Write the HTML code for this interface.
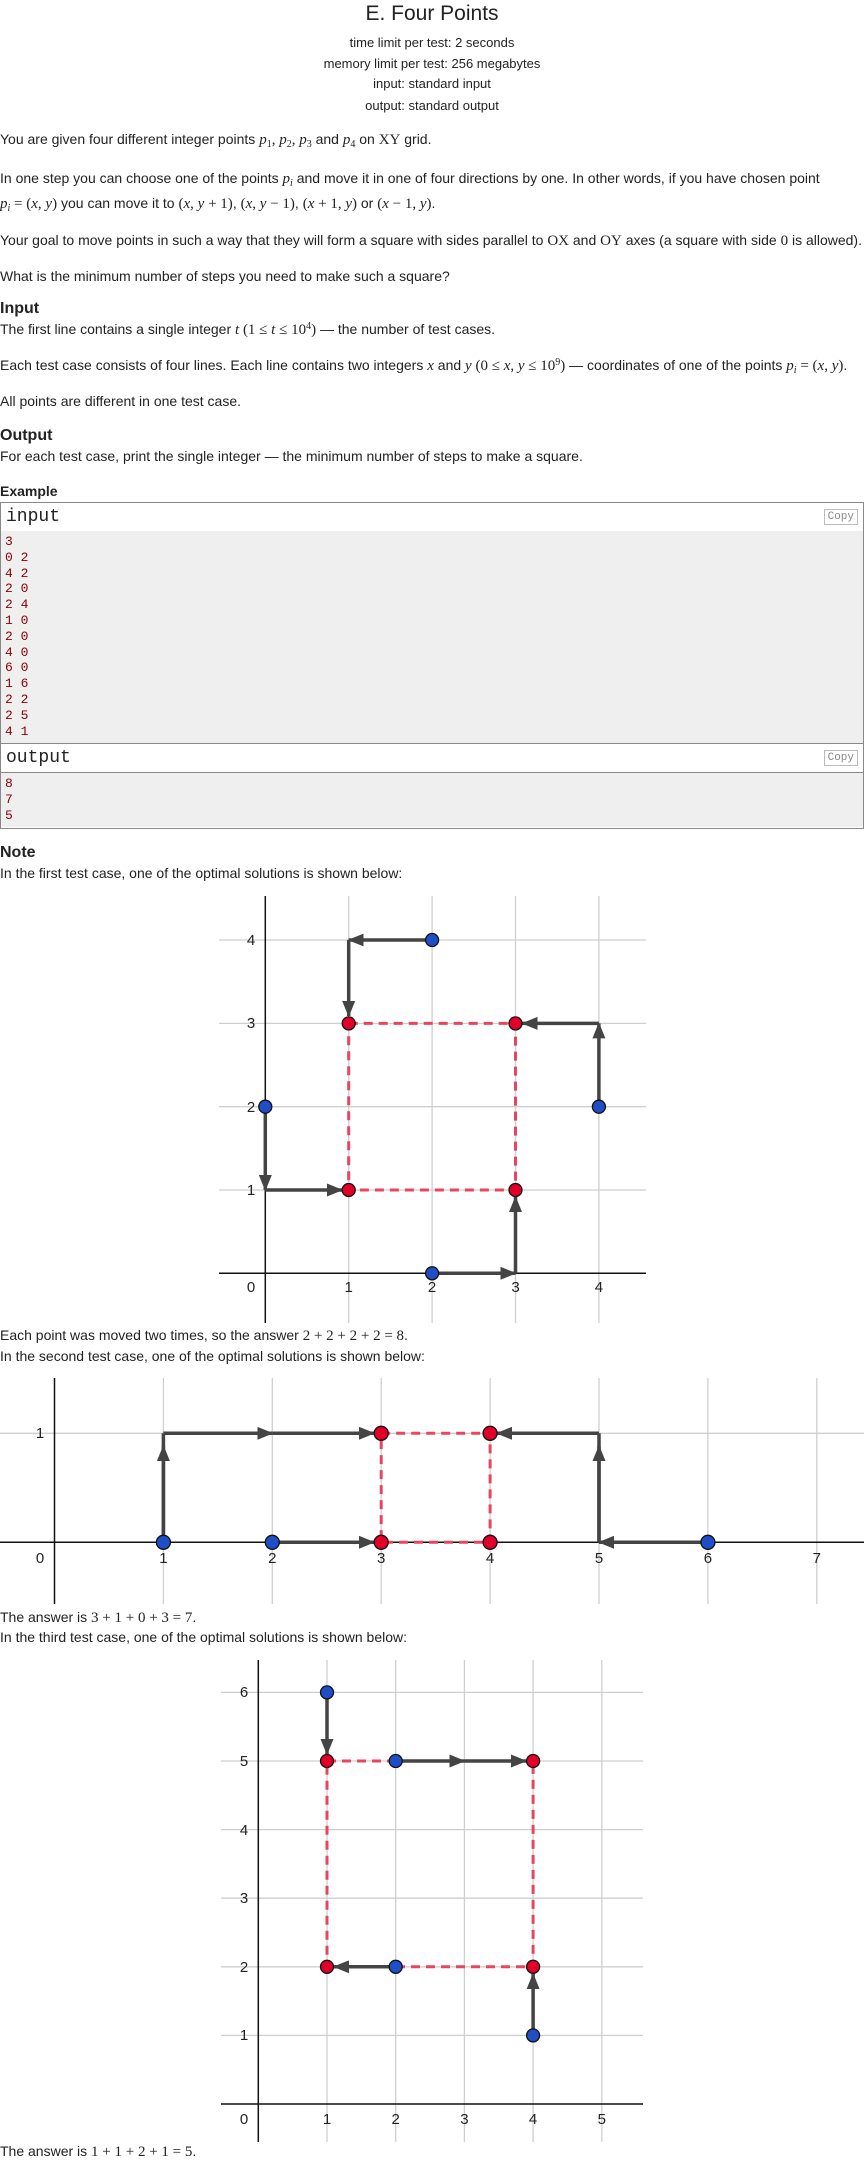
<!DOCTYPE html>
<html><head><meta charset="utf-8">
<style>
html,body{margin:0;padding:0;background:#fff;}
body{width:864px;height:2162px;position:relative;overflow:hidden;font-family:"Liberation Sans",sans-serif;color:#222;font-size:14px;}
.t{position:absolute;left:0;white-space:nowrap;line-height:18px;height:18px;}
.c{left:0;width:864px;text-align:center;}
.m{font-family:"Liberation Serif",serif;font-size:15px;}
sub{font-size:10px;vertical-align:-3px;line-height:0;}
sup{font-size:10px;vertical-align:5px;line-height:0;}
.h{font-weight:bold;font-size:16px;}
.box{position:absolute;left:0;width:862px;border:1px solid #888;}
.hdr{position:absolute;left:0;width:862px;background:#fff;font-family:"Liberation Mono",monospace;font-size:18px;}
.hdr span{position:absolute;left:5px;top:4px;}
.copy{position:absolute;right:5px;top:6px;border:1px solid #bbb;font-size:11px;color:#888;padding:1px 3px;font-family:"Liberation Mono",monospace;}
.pre{position:absolute;left:0;width:862px;background:#efefef;font-family:"Liberation Mono",monospace;font-size:13px;color:#8b0000;line-height:15.8px;}
.pre div{padding-left:4px;}
</style></head><body>
<div class="t c" style="top:3px;font-size:21px;line-height:22px;height:22px;">E. Four Points</div>
<div class="t c" style="top:34px;font-size:13px;">time limit per test: 2 seconds</div>
<div class="t c" style="top:55px;font-size:13px;">memory limit per test: 256 megabytes</div>
<div class="t c" style="top:75px;font-size:13px;">input: standard input</div>
<div class="t c" style="top:97px;font-size:13px;">output: standard output</div>

<div class="t" style="top:130px;">You are given four different integer points <span class="m"><i>p</i><sub>1</sub>, <i>p</i><sub>2</sub>, <i>p</i><sub>3</sub></span> and <span class="m"><i>p</i><sub>4</sub></span> on <span class="m">XY</span> grid.</div>
<div class="t" style="top:169px;">In one step you can choose one of the points <span class="m"><i>p<sub>i</sub></i></span> and move it in one of four directions by one. In other words, if you have chosen point</div>
<div class="t" style="top:194px;"><span class="m"><i>p<sub>i</sub></i> = (<i>x</i>, <i>y</i>)</span> you can move it to <span class="m">(<i>x</i>, <i>y</i> + 1)</span>, <span class="m">(<i>x</i>, <i>y</i> − 1)</span>, <span class="m">(<i>x</i> + 1, <i>y</i>)</span> or <span class="m">(<i>x</i> − 1, <i>y</i>)</span>.</div>
<div class="t" style="top:231px;">Your goal to move points in such a way that they will form a square with sides parallel to <span class="m">OX</span> and <span class="m">OY</span> axes (a square with side <span class="m">0</span> is allowed).</div>
<div class="t" style="top:267px;">What is the minimum number of steps you need to make such a square?</div>
<div class="t h" style="top:300px;">Input</div>
<div class="t" style="top:320px;">The first line contains a single integer <span class="m"><i>t</i> (1 ≤ <i>t</i> ≤ 10<sup>4</sup>)</span> — the number of test cases.</div>
<div class="t" style="top:356px;">Each test case consists of four lines. Each line contains two integers <span class="m"><i>x</i></span> and <span class="m"><i>y</i> (0 ≤ <i>x</i>, <i>y</i> ≤ 10<sup>9</sup>)</span> — coordinates of one of the points <span class="m"><i>p<sub>i</sub></i> = (<i>x</i>, <i>y</i>)</span>.</div>
<div class="t" style="top:392px;">All points are different in one test case.</div>
<div class="t h" style="top:427px;">Output</div>
<div class="t" style="top:447px;">For each test case, print the single integer — the minimum number of steps to make a square.</div>
<div class="t" style="top:482px;font-weight:bold;">Example</div>

<div class="box" style="top:502px;height:325px;"></div>
<div class="hdr" style="top:503px;left:1px;height:28px;"><span>input</span><div class="copy">Copy</div></div>
<div class="pre" style="top:531px;left:1px;height:212px;border-top:0;"><div style="padding-top:3px;">3</div><div>0 2</div><div>4 2</div><div>2 0</div><div>2 4</div><div>1 0</div><div>2 0</div><div>4 0</div><div>6 0</div><div>1 6</div><div>2 2</div><div>2 5</div><div>4 1</div></div>
<div style="position:absolute;left:0;top:743px;width:864px;height:1px;background:#888;"></div>
<div class="hdr" style="top:744px;left:1px;height:28px;"><span>output</span><div class="copy">Copy</div></div>
<div style="position:absolute;left:0;top:772px;width:864px;height:1px;background:#888;"></div>
<div class="pre" style="top:773px;left:1px;height:54px;"><div style="padding-top:3px;">8</div><div>7</div><div>5</div></div>

<div class="t h" style="top:844px;">Note</div>
<div class="t" style="top:864px;">In the first test case, one of the optimal solutions is shown below:</div>
<div class="t" style="top:1326px;">Each point was moved two times, so the answer <span class="m">2 + 2 + 2 + 2 = 8</span>.</div>
<div class="t" style="top:1347px;">In the second test case, one of the optimal solutions is shown below:</div>
<div class="t" style="top:1608px;">The answer is <span class="m">3 + 1 + 0 + 3 = 7</span>.</div>
<div class="t" style="top:1628px;">In the third test case, one of the optimal solutions is shown below:</div>
<div class="t" style="top:2142px;">The answer is <span class="m">1 + 1 + 2 + 1 = 5</span>.</div>

<svg width="864" height="2162" style="position:absolute;left:0;top:0;" xmlns="http://www.w3.org/2000/svg">
<defs>
<marker id="ah" markerUnits="userSpaceOnUse" markerWidth="16" markerHeight="13" refX="15" refY="6.5" orient="auto"><path d="M0,0 L16,6.5 L0,13 z" fill="#444"/></marker>
</defs>
<g font-family="Liberation Sans, sans-serif" font-size="15" fill="#222" text-anchor="middle">
<!-- Graph 1 -->
<g stroke="#cfcfcf" stroke-width="1.3">
<line x1="348.7" y1="896" x2="348.7" y2="1323"/><line x1="432.1" y1="896" x2="432.1" y2="1323"/><line x1="515.5" y1="896" x2="515.5" y2="1323"/><line x1="598.9" y1="896" x2="598.9" y2="1323"/>
<line x1="219" y1="940" x2="646" y2="940"/><line x1="219" y1="1023.4" x2="646" y2="1023.4"/><line x1="219" y1="1106.7" x2="646" y2="1106.7"/><line x1="219" y1="1190" x2="646" y2="1190"/>
</g>
<g stroke="#111" stroke-width="1.5"><line x1="265.3" y1="896" x2="265.3" y2="1323"/><line x1="219" y1="1273.3" x2="646" y2="1273.3"/></g>
<text x="251" y="1292">0</text><text x="348.7" y="1292">1</text><text x="432.1" y="1292">2</text><text x="515.5" y="1292">3</text><text x="598.9" y="1292">4</text>
<text x="251" y="945">4</text><text x="251" y="1028">3</text><text x="251" y="1112">2</text><text x="251" y="1195">1</text>
<g stroke="#e8465f" stroke-width="3" stroke-dasharray="9 6" fill="none"><rect x="348.7" y="1023.4" width="166.8" height="166.6"/></g>
<g stroke="#444" stroke-width="3.5" marker-end="url(#ah)">
<line x1="432.1" y1="940" x2="348.7" y2="940"/>
<line x1="348.7" y1="940" x2="348.7" y2="1016"/>
<line x1="265.3" y1="1106.7" x2="265.3" y2="1190"/>
<line x1="265.3" y1="1190" x2="342" y2="1190"/>
<line x1="432.1" y1="1273.3" x2="515.5" y2="1273.3"/>
<line x1="515.5" y1="1273.3" x2="515.5" y2="1197"/>
<line x1="598.9" y1="1106.7" x2="598.9" y2="1023.4"/>
<line x1="598.9" y1="1023.4" x2="522.5" y2="1023.4"/>
</g>
<g stroke="#111" stroke-width="1.3">
<circle cx="432.1" cy="940" r="6.5" fill="#1f4fc7"/><circle cx="265.3" cy="1106.7" r="6.5" fill="#1f4fc7"/><circle cx="598.9" cy="1106.7" r="6.5" fill="#1f4fc7"/><circle cx="432.1" cy="1273.3" r="6.5" fill="#1f4fc7"/>
<circle cx="348.7" cy="1023.4" r="6.5" fill="#e2002b"/><circle cx="515.5" cy="1023.4" r="6.5" fill="#e2002b"/><circle cx="348.7" cy="1190" r="6.5" fill="#e2002b"/><circle cx="515.5" cy="1190" r="6.5" fill="#e2002b"/>
</g>

<!-- Graph 2 -->
<g stroke="#cfcfcf" stroke-width="1.3">
<line x1="163.4" y1="1378" x2="163.4" y2="1604"/><line x1="272.3" y1="1378" x2="272.3" y2="1604"/><line x1="381.2" y1="1378" x2="381.2" y2="1604"/><line x1="490.1" y1="1378" x2="490.1" y2="1604"/><line x1="599" y1="1378" x2="599" y2="1604"/><line x1="707.9" y1="1378" x2="707.9" y2="1604"/><line x1="816.8" y1="1378" x2="816.8" y2="1604"/>
<line x1="0" y1="1433.3" x2="864" y2="1433.3"/>
</g>
<g stroke="#111" stroke-width="1.5"><line x1="54.5" y1="1378" x2="54.5" y2="1604"/><line x1="0" y1="1542.3" x2="864" y2="1542.3"/></g>
<text x="40" y="1563">0</text><text x="163.4" y="1563">1</text><text x="272.3" y="1563">2</text><text x="381.2" y="1563">3</text><text x="490.1" y="1563">4</text><text x="599" y="1563">5</text><text x="707.9" y="1563">6</text><text x="816.8" y="1563">7</text>
<text x="40" y="1438">1</text>
<g stroke="#e8465f" stroke-width="3" stroke-dasharray="9 6" fill="none"><rect x="381.2" y="1433.3" width="108.9" height="109"/></g>
<g stroke="#444" stroke-width="3.5">
<line x1="163.4" y1="1542.3" x2="163.4" y2="1433.3"/><line x1="599" y1="1542.3" x2="599" y2="1433.3"/>
</g>
<g stroke="#444" stroke-width="3.5" marker-end="url(#ah)">
<line x1="163.4" y1="1542.3" x2="163.4" y2="1446"/>
<line x1="163.4" y1="1433.3" x2="272.3" y2="1433.3"/>
<line x1="272.3" y1="1433.3" x2="374" y2="1433.3"/>
<line x1="599" y1="1542.3" x2="599" y2="1446"/>
<line x1="599" y1="1433.3" x2="497" y2="1433.3"/>
<line x1="707.9" y1="1542.3" x2="599" y2="1542.3"/>
<line x1="272.3" y1="1542.3" x2="374" y2="1542.3"/>
</g>
<g stroke="#111" stroke-width="1.3">
<circle cx="163.4" cy="1542.3" r="7" fill="#1f4fc7"/><circle cx="272.3" cy="1542.3" r="7" fill="#1f4fc7"/><circle cx="707.9" cy="1542.3" r="7" fill="#1f4fc7"/>
<circle cx="381.2" cy="1542.3" r="7" fill="#e2002b"/><circle cx="490.1" cy="1542.3" r="7" fill="#e2002b"/><circle cx="381.2" cy="1433.3" r="7" fill="#e2002b"/><circle cx="490.1" cy="1433.3" r="7" fill="#e2002b"/>
</g>

<!-- Graph 3 -->
<g stroke="#cfcfcf" stroke-width="1.3">
<line x1="327" y1="1660" x2="327" y2="2142"/><line x1="395.7" y1="1660" x2="395.7" y2="2142"/><line x1="464.4" y1="1660" x2="464.4" y2="2142"/><line x1="533.1" y1="1660" x2="533.1" y2="2142"/><line x1="601.8" y1="1660" x2="601.8" y2="2142"/>
<line x1="221" y1="1692.4" x2="643" y2="1692.4"/><line x1="221" y1="1761" x2="643" y2="1761"/><line x1="221" y1="1829.6" x2="643" y2="1829.6"/><line x1="221" y1="1898.2" x2="643" y2="1898.2"/><line x1="221" y1="1966.8" x2="643" y2="1966.8"/><line x1="221" y1="2035.4" x2="643" y2="2035.4"/>
</g>
<g stroke="#111" stroke-width="1.5"><line x1="258.3" y1="1660" x2="258.3" y2="2142"/><line x1="221" y1="2104" x2="643" y2="2104"/></g>
<text x="244" y="2124">0</text><text x="327" y="2124">1</text><text x="395.7" y="2124">2</text><text x="464.4" y="2124">3</text><text x="533.1" y="2124">4</text><text x="601.8" y="2124">5</text>
<text x="244" y="1697">6</text><text x="244" y="1766">5</text><text x="244" y="1835">4</text><text x="244" y="1903">3</text><text x="244" y="1972">2</text><text x="244" y="2040">1</text>
<g stroke="#e8465f" stroke-width="3" stroke-dasharray="9 6" fill="none"><rect x="327" y="1761" width="206.1" height="205.8"/></g>
<g stroke="#444" stroke-width="3.5" marker-end="url(#ah)">
<line x1="327" y1="1692.4" x2="327" y2="1754"/>
<line x1="395.7" y1="1761" x2="464.4" y2="1761"/>
<line x1="464.4" y1="1761" x2="526" y2="1761"/>
<line x1="395.7" y1="1966.8" x2="334" y2="1966.8"/>
<line x1="533.1" y1="2035.4" x2="533.1" y2="1974"/>
</g>
<g stroke="#111" stroke-width="1.3">
<circle cx="327" cy="1692.4" r="6.5" fill="#1f4fc7"/><circle cx="395.7" cy="1761" r="6.5" fill="#1f4fc7"/><circle cx="395.7" cy="1966.8" r="6.5" fill="#1f4fc7"/><circle cx="533.1" cy="2035.4" r="6.5" fill="#1f4fc7"/>
<circle cx="327" cy="1761" r="6.5" fill="#e2002b"/><circle cx="533.1" cy="1761" r="6.5" fill="#e2002b"/><circle cx="327" cy="1966.8" r="6.5" fill="#e2002b"/><circle cx="533.1" cy="1966.8" r="6.5" fill="#e2002b"/>
</g>
</g>
</svg>
</body></html>
